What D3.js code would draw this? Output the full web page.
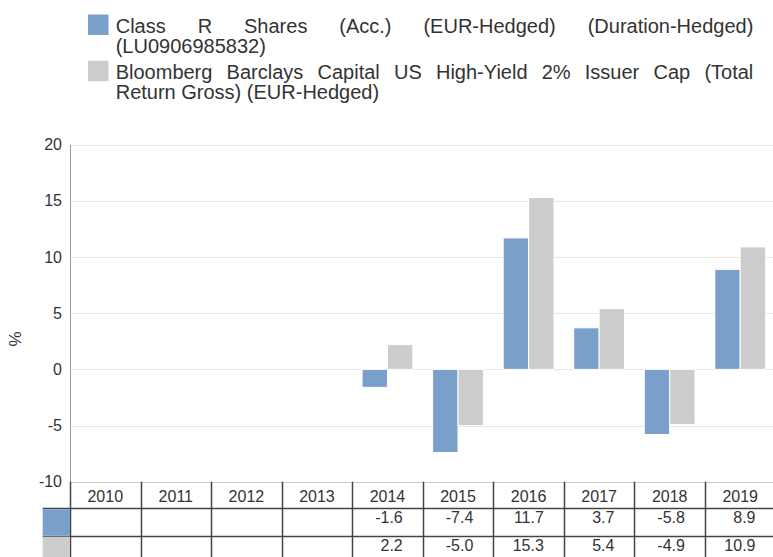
<!DOCTYPE html>
<html>
<head>
<meta charset="utf-8">
<script src="https://cdn.jsdelivr.net/npm/d3@7"></script>
<style>
  body { margin: 0; background: #fff; }
  svg { display: block; font-family: "Liberation Sans", Arial, sans-serif; }
</style>
</head>
<body>
<div id="chart"></div>
<script>
// data
var years = ["2010", "2011", "2012", "2013", "2014", "2015", "2016", "2017", "2018", "2019"];
var seriesNames = [
    "Class R Shares (Acc.) (EUR-Hedged) (Duration-Hedged) (LU0906985832)",
    "Bloomberg Barclays Capital US High-Yield 2% Issuer Cap (Total Return Gross) (EUR-Hedged)"
];
var classR = [null, null, null, null, -1.6, -7.4, 11.7, 3.7, -5.8, 8.9];
var benchmark = [null, null, null, null, 2.2, -5.0, 15.3, 5.4, -4.9, 10.9];
var yTicks = [-10, -5, 0, 5, 10, 15, 20];
var colors = ["#7a9fca", "#cccccc"];

var W = 773, H = 557;
var margin = { left: 70, top: 144.7 };
var plotRight = 775.5;
var plotBottom = 481.7;

var svg = d3.select("#chart").append("svg")
    .attr("width", W)
    .attr("height", H);

var series = [classR, benchmark];

var x = d3.scaleBand()
    .domain(years)
    .range([margin.left, plotRight]);
var bw = x.bandwidth();
var x1 = d3.scaleBand()
    .domain([0, 1])
    .range([bw * 0.14, bw * 0.86]);
var y = d3.scaleLinear()
    .domain([-10, 20])
    .range([plotBottom, margin.top]);

// gridlines
svg.append("g").selectAll("line")
    .data(yTicks)
    .enter().append("line")
    .attr("x1", margin.left)
    .attr("x2", W)
    .attr("y1", d => Math.round(y(d)) + 0.5)
    .attr("y2", d => Math.round(y(d)) + 0.5)
    .attr("stroke", d => d === -10 ? "#cccccc" : "#e6e6e6")
    .attr("stroke-width", 1);

// y axis
var yAxis = d3.axisLeft(y)
    .tickValues(yTicks)
    .tickSize(0)
    .tickPadding(8)
    .tickFormat(d => String(d));
var yg = svg.append("g")
    .attr("transform", "translate(" + margin.left + ",0)")
    .call(yAxis);
yg.select(".domain").remove();
yg.selectAll("text")
    .attr("font-size", "16px")
    .attr("fill", "#333")
    .attr("font-family", "Liberation Sans, Arial, sans-serif");
svg.append("line")
    .attr("x1", margin.left + 0.5).attr("x2", margin.left + 0.5)
    .attr("y1", margin.top).attr("y2", plotBottom)
    .attr("stroke", "#999");

svg.append("text")
    .attr("transform", "translate(21,339) rotate(-90)")
    .attr("text-anchor", "middle")
    .attr("font-size", "17px")
    .attr("fill", "#333")
    .text("%");

// bars
series.forEach(function (vals, si) {
    svg.append("g").selectAll("rect")
        .data(years.map((yr, i) => ({ year: yr, v: vals[i] })).filter(d => d.v !== null))
        .enter().append("rect")
        .attr("x", d => x(d.year) + x1(si))
        .attr("width", x1.bandwidth())
        .attr("y", d => y(Math.max(0, d.v)))
        .attr("height", d => Math.abs(y(d.v) - y(0)))
        .attr("fill", colors[si])
        .attr("stroke", "#fff")
        .attr("stroke-width", 1);
});

// data table
var rowTops = [plotBottom, 508.3, 535.7, 563];
var tableLine = "#444";
var tg = svg.append("g");
// vertical lines
tg.selectAll("line.v")
    .data(years.concat(["end"]))
    .enter().append("line")
    .attr("x1", (d, i) => Math.round(margin.left + i * bw) + 0.5)
    .attr("x2", (d, i) => Math.round(margin.left + i * bw) + 0.5)
    .attr("y1", plotBottom)
    .attr("y2", H)
    .attr("stroke", tableLine)
    .attr("stroke-width", 1.5);
// horizontal lines
tg.selectAll("line.h")
    .data([rowTops[1], rowTops[2]])
    .enter().append("line")
    .attr("x1", 42.7)
    .attr("x2", W)
    .attr("y1", d => Math.round(d) + 0.5)
    .attr("y2", d => Math.round(d) + 0.5)
    .attr("stroke", tableLine)
    .attr("stroke-width", 1.5);
// swatches in table
colors.forEach(function (c, i) {
    tg.append("rect")
        .attr("x", 42.7)
        .attr("y", rowTops[i + 1] + 1)
        .attr("width", margin.left - 42.7)
        .attr("height", rowTops[i + 2] - rowTops[i + 1] - 1)
        .attr("fill", c);
});
// header text
tg.selectAll("text.yr")
    .data(years)
    .enter().append("text")
    .attr("x", d => x(d) + bw / 2)
    .attr("y", 502.3)
    .attr("text-anchor", "middle")
    .attr("font-size", "16px")
    .attr("fill", "#333")
    .text(d => d);
// values
var baselines = [523.3, 551.2];
series.forEach(function (vals, si) {
    tg.append("g").selectAll("text")
        .data(years.map((yr, i) => ({ year: yr, v: vals[i] })).filter(d => d.v !== null))
        .enter().append("text")
        .attr("x", d => x(d.year) + bw - 20)
        .attr("y", baselines[si])
        .attr("text-anchor", "end")
        .attr("font-size", "16px")
        .attr("fill", "#333")
        .text(d => d.v.toFixed(1));
});

// legend with justified wrapped text (one text element per item)
var legendX = 115.7, legendW = 637.6, wrapW = 630;
var lineH = 19.5;
var itemTops = [14.5, 60.7];
var fontSize = 20;

function measure(str) {
    var t = svg.append("text").attr("font-size", fontSize + "px").text(str);
    var w = t.node().getComputedTextLength();
    t.remove();
    return w;
}

seriesNames.forEach(function (name, si) {
    var lg = svg.append("g");
    lg.append("rect")
        .attr("x", 88)
        .attr("y", itemTops[si])
        .attr("width", 20.5)
        .attr("height", 20.5)
        .attr("fill", colors[si]);
    var words = name.split(" ");
    var lines = [], cur = [];
    words.forEach(function (w) {
        var test = cur.concat([w]).join(" ");
        if (cur.length && measure(test) > wrapW) {
            lines.push(cur);
            cur = [w];
        } else {
            cur.push(w);
        }
    });
    lines.push(cur);
    var txt = lg.append("text")
        .attr("font-size", fontSize + "px")
        .attr("fill", "#333");
    lines.forEach(function (ws, li) {
        var by = itemTops[si] + 18.5 + li * lineH;
        var last = li === lines.length - 1;
        if (last) {
            txt.append("tspan")
                .attr("x", legendX)
                .attr("y", by)
                .text(ws.join(" "));
        } else {
            var widths = ws.map(measure);
            var gap = (legendW - d3.sum(widths)) / (ws.length - 1);
            var cx = legendX;
            ws.forEach(function (w, wi) {
                txt.append("tspan")
                    .attr("x", cx)
                    .attr("y", by)
                    .text(w);
                cx += widths[wi] + gap;
            });
        }
    });
});
</script>
</body>
</html>
